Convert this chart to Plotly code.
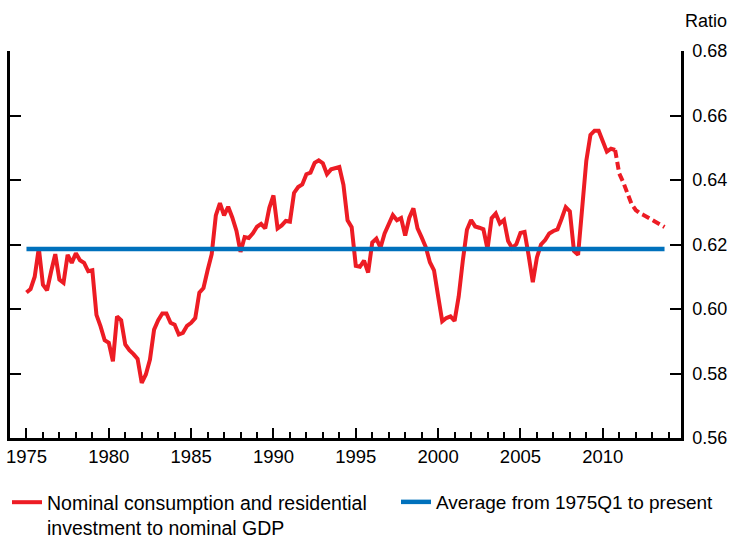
import plotly.graph_objects as go

# Quarterly ratio, 1975Q1 onward
ratio_actual = [
    0.6051, 0.6062, 0.6100, 0.6189, 0.6075, 0.6058, 0.6117, 0.6170,
    0.6091, 0.6081, 0.6168, 0.6143, 0.6173, 0.6151, 0.6143, 0.6117,
    0.6120, 0.5982, 0.5946, 0.5903, 0.5895, 0.5838, 0.5977, 0.5965,
    0.5890, 0.5872, 0.5860, 0.5845, 0.5771, 0.5797, 0.5843, 0.5936,
    0.5965, 0.5986, 0.5986, 0.5957, 0.5951, 0.5921, 0.5926, 0.5948,
    0.5957, 0.5972, 0.6051, 0.6065, 0.6120, 0.6170, 0.6290, 0.6328,
    0.6290, 0.6317, 0.6284, 0.6243, 0.6177, 0.6223, 0.6220, 0.6235,
    0.6255, 0.6264, 0.6250, 0.6314, 0.6352, 0.6250, 0.6259, 0.6273,
    0.6271, 0.6360, 0.6378, 0.6386, 0.6418, 0.6423, 0.6453, 0.6461,
    0.6452, 0.6418, 0.6433, 0.6437, 0.6440, 0.6385, 0.6275, 0.6254,
    0.6134, 0.6131, 0.6150, 0.6113, 0.6206, 0.6218, 0.6190, 0.6234,
    0.6265, 0.6291, 0.6275, 0.6282, 0.6228, 0.6283, 0.6312, 0.6250,
    0.6222, 0.6192, 0.6145, 0.6120, 0.6040, 0.5962, 0.5972, 0.5977,
    0.5963, 0.6039, 0.6150, 0.6246, 0.6276, 0.6256, 0.6252, 0.6247,
    0.6186, 0.6282, 0.6296, 0.6265, 0.6276, 0.6211, 0.6189, 0.6201,
    0.6236, 0.6239, 0.6165, 0.6083, 0.6160, 0.6200, 0.6214, 0.6234,
    0.6242, 0.6247, 0.6280, 0.6316, 0.6303, 0.6180, 0.6168, 0.6310,
    0.6460, 0.6540, 0.6553, 0.6553, 0.6518, 0.6488, 0.6497, 0.6493,
]
# Projected portion (dashed), continuing after the last actual quarter
ratio_projected = [
    0.6420, 0.6392, 0.6358, 0.6325, 0.6307, 0.6297, 0.6291, 0.6284,
    0.6275, 0.6269, 0.6263, 0.6254,
]
average_value = 0.6186
start_year = 1975
year_ticks = [1975, 1980, 1985, 1990, 1995, 2000, 2005, 2010]
y_ticks = [0.56, 0.58, 0.60, 0.62, 0.64, 0.66, 0.68]

n_act = len(ratio_actual)
n_all = n_act + len(ratio_projected)
x_act = [start_year + k / 4 for k in range(n_act)]
x_proj = [start_year + k / 4 for k in range(n_act - 1, n_all)]
y_proj = [ratio_actual[-1]] + ratio_projected
x_all_end = start_year + (n_all - 1) / 4

RED = "#ED1C24"
BLUE = "#0071BC"
FONT = "Liberation Sans, Arial, sans-serif"

fig = go.Figure()
fig.add_trace(go.Scatter(
    x=x_act, y=ratio_actual, mode="lines",
    line=dict(color=RED, width=4),
    name="Nominal consumption and residential<br>investment to nominal GDP",
    legend="legend",
))
fig.add_trace(go.Scatter(
    x=x_proj, y=y_proj, mode="lines",
    line=dict(color=RED, width=4, dash="8px,4px"),
    showlegend=False,
))
fig.add_trace(go.Scatter(
    x=[start_year, x_all_end], y=[average_value, average_value], mode="lines",
    line=dict(color=BLUE, width=4.5),
    name="Average from 1975Q1 to present",
    legend="legend2",
))

legend_common = dict(
    orientation="h", xref="container", yref="container",
    y=0.1022, xanchor="left", yanchor="top",
    valign="top", itemwidth=30, bgcolor="rgba(0,0,0,0)",
)

fig.update_layout(
    width=730, height=538,
    margin=dict(l=10, r=49, t=51, b=100, autoexpand=False),
    paper_bgcolor="white", plot_bgcolor="white",
    font=dict(family=FONT, size=18, color="black"),
    showlegend=True,
    legend=dict(x=7 / 730, font=dict(size=19.5, family=FONT, color="black"),
                **legend_common),
    legend2=dict(x=396 / 730, font=dict(size=19, family=FONT, color="black"),
                 **legend_common),
    annotations=[dict(
        text="Ratio", xref="paper", yref="paper", x=1, y=1.0775,
        xanchor="left", yanchor="middle", xshift=2, showarrow=False,
        font=dict(size=18, family=FONT, color="black"),
    )],
)

fig.update_xaxes(
    range=[1974, 2014.75], tickmode="array", tickvals=year_ticks,
    ticktext=[str(v) for v in year_ticks],
    ticks="inside", ticklen=10, tickwidth=2, tickcolor="black",
    showline=True, linecolor="black", linewidth=2.5,
    showgrid=False, zeroline=False, ticklabelstandoff=0,
    minor=dict(dtick=1, tick0=1975, ticks="inside", ticklen=6,
               tickwidth=2, tickcolor="black", showgrid=False),
    tickfont=dict(size=18.5, family=FONT),
)
fig.update_yaxes(
    range=[0.56, 0.68], tickmode="array", tickvals=y_ticks,
    ticktext=[f"{v:.2f}" for v in y_ticks],
    side="right", ticks="inside", ticklen=11, tickwidth=2, tickcolor="black",
    showline=True, linecolor="black", linewidth=2.5, mirror="ticks",
    showgrid=False, zeroline=False, ticklabelstandoff=5,
    tickfont=dict(size=18, family=FONT),
)

fig.write_html("out.html", config={"displayModeBar": False},
               post_script="document.body.style.margin='0';")
